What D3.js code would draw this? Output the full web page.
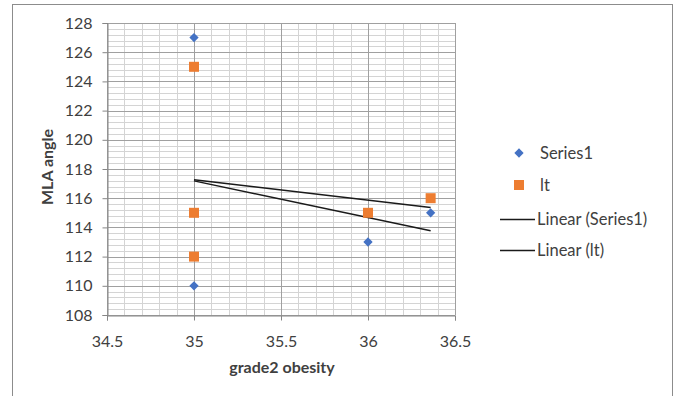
<!DOCTYPE html>
<html>
<head>
<meta charset="utf-8">
<script src="https://cdn.jsdelivr.net/npm/d3@7"></script>
<style>
  html, body { margin: 0; padding: 0; background: #fff; }
  svg { display: block; font-family: Lato, "Open Sans", sans-serif; }
</style>
</head>
<body>
<svg id="chart" width="678" height="396"></svg>
<script>
// Grade 2 obesity vs. MLA angle
const obesity = [35, 35, 35, 36, 36.36];
const series1 = [127, 115, 110, 113, 115];
const lt = [125, 115, 112, 115, 116];
const xTicks = [34.5, 35, 35.5, 36, 36.5];
const yTicks = [108, 110, 112, 114, 116, 118, 120, 122, 124, 126, 128];
const legendLabels = ["Series1", "lt", "Linear (Series1)", "Linear (lt)"];

const svg = d3.select("#chart");

// chart frame
svg.append("rect").attr("x", 12.5).attr("y", 4.5).attr("width", 660).attr("height", 400)
  .attr("fill", "#fff").attr("stroke", "#8c8c8c").attr("stroke-width", 1);

const plot = { left: 107, right: 455, top: 23, bottom: 315 };
const x = d3.scaleLinear().domain([34.5, 36.5]).range([plot.left, plot.right]);
const y = d3.scaleLinear().domain([108, 128]).range([plot.bottom, plot.top]);

const g = svg.append("g");

// minor gridlines
const xMinor = d3.range(345, 366, 1).map(v => v / 10);
const yMinor = d3.range(0, 51).map(i => 108 + i * 0.4);
g.selectAll(".xminor").data(xMinor).join("line")
  .attr("x1", d => Math.round(x(d)) + 0.5).attr("x2", d => Math.round(x(d)) + 0.5)
  .attr("y1", plot.top).attr("y2", plot.bottom)
  .attr("stroke", "#d4d4d4").attr("stroke-width", 1);
g.selectAll(".yminor").data(yMinor).join("line")
  .attr("x1", plot.left).attr("x2", plot.right)
  .attr("y1", d => Math.round(y(d)) + 0.5).attr("y2", d => Math.round(y(d)) + 0.5)
  .attr("stroke", "#d4d4d4").attr("stroke-width", 1);

// major gridlines
g.selectAll(".xmajor").data(xTicks).join("line")
  .attr("x1", d => Math.round(x(d)) + 0.5).attr("x2", d => Math.round(x(d)) + 0.5)
  .attr("y1", plot.top).attr("y2", plot.bottom)
  .attr("stroke", "#a0a0a0").attr("stroke-width", 1);
g.selectAll(".ymajor").data(yTicks).join("line")
  .attr("x1", plot.left).attr("x2", plot.right)
  .attr("y1", d => Math.round(y(d)) + 0.5).attr("y2", d => Math.round(y(d)) + 0.5)
  .attr("stroke", "#a0a0a0").attr("stroke-width", 1);

// axes
const xAxis = d3.axisBottom(x).tickValues(xTicks).tickFormat(d3.format("")).tickSizeOuter(0).tickSize(5).tickPadding(15);
const yAxis = d3.axisLeft(y).tickValues(yTicks).tickFormat(d3.format("")).tickSizeOuter(0).tickSize(5).tickPadding(10);

const xa = svg.append("g").attr("transform", `translate(0,${plot.bottom + 0.5})`).call(xAxis);
const ya = svg.append("g").attr("transform", `translate(${plot.left + 0.5},0)`).call(yAxis);
[xa, ya].forEach(a => {
  a.select(".domain").attr("stroke", "#868686");
  a.selectAll(".tick line").attr("stroke", "#868686");
  a.selectAll("text").attr("fill", "#404040").attr("font-size", 16)
    .attr("font-family", "Lato, 'Open Sans', sans-serif");
});

// linear trendlines (least squares)
function fit(xs, ys) {
  const mx = d3.mean(xs), my = d3.mean(ys);
  let sxy = 0, sxx = 0;
  xs.forEach((v, i) => { sxy += (v - mx) * (ys[i] - my); sxx += (v - mx) * (v - mx); });
  const b = sxy / sxx;
  return v => my + b * (v - mx);
}
const x0 = d3.min(obesity), x1 = d3.max(obesity);
[series1, lt].forEach(ys => {
  const f = fit(obesity, ys);
  svg.append("line")
    .attr("x1", x(x0)).attr("y1", y(f(x0)))
    .attr("x2", x(x1)).attr("y2", y(f(x1)))
    .attr("stroke", "#1a1a1a").attr("stroke-width", 1.5);
});

// markers
const diamond = d3.symbol().type(d3.symbolDiamond2).size(55);
svg.append("g").selectAll("path").data(obesity.map((v, i) => [v, series1[i]])).join("path")
  .attr("d", diamond)
  .attr("transform", d => `translate(${x(d[0])},${y(d[1])})`)
  .attr("fill", "#4472c4");

svg.append("g").selectAll("rect").data(obesity.map((v, i) => [v, lt[i]])).join("rect")
  .attr("x", d => x(d[0]) - 5).attr("y", d => y(d[1]) - 5)
  .attr("width", 10).attr("height", 10)
  .attr("fill", "#ed7d31");

// axis titles
svg.append("text").attr("x", 282).attr("y", 373).attr("text-anchor", "middle")
  .attr("font-size", 16).attr("font-weight", "bold").attr("fill", "#404040")
  .text("grade2 obesity");
svg.append("text").attr("transform", "translate(53,167) rotate(-90)").attr("text-anchor", "middle")
  .attr("font-size", 16).attr("font-weight", "bold").attr("fill", "#404040")
  .text("MLA angle");

// legend
const leg = svg.append("g");
const legY = [153, 185, 219, 250];
leg.append("path").attr("d", diamond).attr("transform", `translate(519,${legY[0]})`).attr("fill", "#4472c4");
leg.append("rect").attr("x", 514).attr("y", legY[1] - 5).attr("width", 10).attr("height", 10).attr("fill", "#ed7d31");
[2, 3].forEach(i => {
  leg.append("line").attr("x1", 500).attr("x2", 535).attr("y1", legY[i] + 0.5).attr("y2", legY[i] + 0.5)
    .attr("stroke", "#1a1a1a").attr("stroke-width", 1.5);
});
legendLabels.forEach((t, i) => {
  leg.append("text").attr("x", i < 2 ? 540 : 537).attr("y", legY[i]).attr("dy", "0.35em")
    .attr("font-size", 16.5).attr("fill", "#404040").text(t);
});
</script>
</body>
</html>
